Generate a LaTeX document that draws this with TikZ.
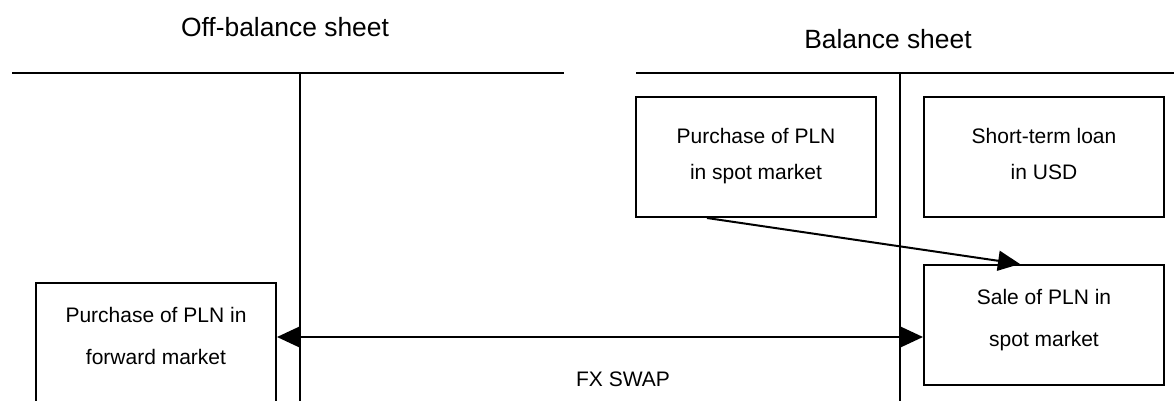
\documentclass[tikz,border=0pt]{standalone}
\usepackage{fontspec}
\setmainfont{Liberation Sans}
\usetikzlibrary{arrows.meta,calc}
\begin{document}
\begin{tikzpicture}[x=0.5pt,y=-0.5pt,
  rule/.style={line width=1pt},
  box/.style={draw,line width=1pt,minimum width=120pt,minimum height=60pt,inner sep=0pt},
  boxtext/.style={align=center,font=\fontsize{10.5}{21}\selectfont,inner sep=0pt},
  topboxtext/.style={align=center,font=\fontsize{10.5}{18}\selectfont,inner sep=0pt},
  title/.style={font=\fontsize{13.2}{16}\selectfont,anchor=base,inner sep=0pt},
  arr/.style={line width=1pt,-{Triangle[length=11pt,width=10pt]}},
  darr/.style={line width=1pt,{Triangle[length=11pt,width=10pt]}-{Triangle[length=11pt,width=10pt]}},
  ]
\useasboundingbox (0,0) rectangle (1174,401);
\clip (0,0) rectangle (1174,401);
% header lines
\coordinate (hl1) at (12,73);
\coordinate (hl2) at (564,73);
\coordinate (hr1) at (636,73);
\coordinate (hr2) at (1176,73);
\coordinate (vlt) at (300,73);
\coordinate (vlb) at (300,410);
\coordinate (vrt) at (900,73);
\coordinate (vrb) at (900,410);
\draw[rule] (hl1) -- (hl2);
\draw[rule] (hr1) -- (hr2);
\draw[rule] (vlt) -- (vlb);
\draw[rule] (vrt) -- (vrb);
% titles
\node[title] (toff) at (285,37) {Off-balance sheet};
\node[title] (tbal) at (888,49) {Balance sheet};
% boxes
\node[box] (b1) at (756,157) {};
\node[box] (b2) at (1044,157) {};
\node[box] (b3) at (1044,325) {};
\node[box] (b4) at (156,343) {};
\node[topboxtext] (b1t) at ($(b1.north)+(0,58)$) {\strut Purchase of PLN\\\strut in spot market};
\node[topboxtext] (b2t) at ($(b2.north)+(0,58)$) {\strut Short-term loan\\\strut in USD};
\node[boxtext] (b3t) at ($(b3.north)+(0,53)$) {\strut Sale of PLN in\\\strut spot market};
\node[boxtext] (b4t) at ($(b4.north)+(0,53)$) {\strut Purchase of PLN in\\\strut forward market};
% arrows
\coordinate (fxy) at (0,337);
\draw[darr] (b4.east |- fxy) -- (b3.west |- fxy);
\node[font=\fontsize{10.5}{21}\selectfont,anchor=base,inner sep=0pt] (fx) at (623,386) {FX SWAP};
\coordinate (dsx) at (707,0);
\coordinate (dex) at (1020,0);
\draw[arr] (b1.south -| dsx) -- (b3.north -| dex);
\end{tikzpicture}
\end{document}
